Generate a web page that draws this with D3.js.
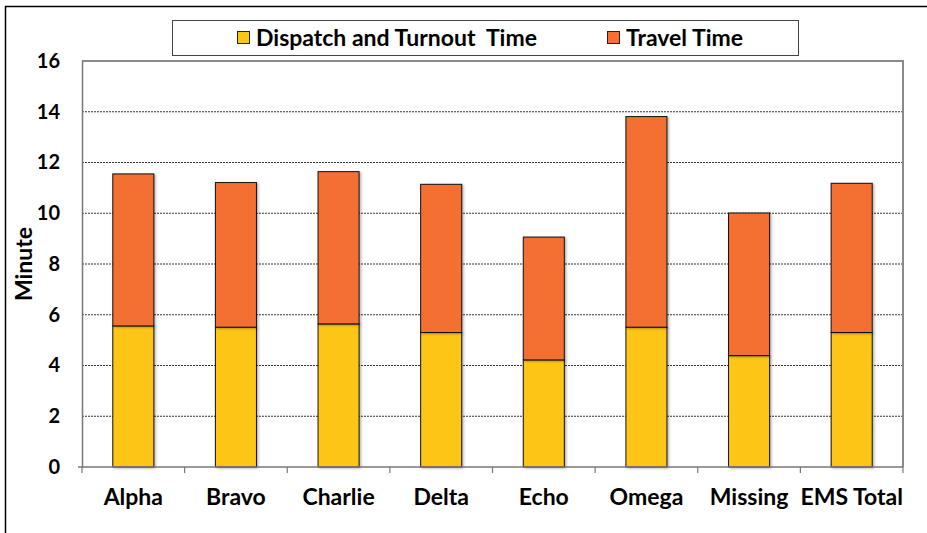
<!DOCTYPE html>
<html>
<head>
<meta charset="utf-8">
<script src="https://cdn.jsdelivr.net/npm/d3@7"></script>
<style>
  html, body { margin: 0; padding: 0; background: #fff; }
  svg { display: block; font-family: Lato, "Open Sans", sans-serif; }
  text { white-space: pre; }
</style>
</head>
<body>
<svg id="chart" width="927" height="533"></svg>
<script>
// Response-time breakdown by unit (minutes)
const categories = ["Alpha", "Bravo", "Charlie", "Delta", "Echo", "Omega", "Missing", "EMS Total"];
const dispatchTurnout = [5.56, 5.51, 5.64, 5.30, 4.22, 5.51, 4.39, 5.30];
const travelTime = [5.99, 5.70, 6.00, 5.84, 4.84, 8.30, 5.62, 5.88];
const seriesNames = ["Dispatch and Turnout  Time", "Travel Time"];
const seriesColors = ["#FDC515", "#F46F30"];
const yTicks = [0, 2, 4, 6, 8, 10, 12, 14, 16];

const svg = d3.select("#chart");
const plot = { left: 82, right: 903, top: 61, bottom: 467 };

const x = d3.scaleBand()
  .domain(categories)
  .range([plot.left, plot.right])
  .paddingInner(0.6)
  .paddingOuter(0.3);

const y = d3.scaleLinear().domain([0, 16]).range([plot.bottom, plot.top]);

// outer frame (top and left edges)
svg.append("path")
  .attr("d", "M5.5,533 V6.5 H927")
  .attr("fill", "none").attr("stroke", "#000").attr("stroke-width", 1.5);

// horizontal dashed gridlines
svg.append("g").selectAll("line")
  .data(yTicks.filter(t => t > 0 && t < 16))
  .join("line")
  .attr("x1", plot.left).attr("x2", plot.right)
  .attr("y1", d => y(d)).attr("y2", d => y(d))
  .attr("stroke", "#333").attr("stroke-width", 1)
  .attr("stroke-dasharray", "2,1");

// stacked bars
const rows = categories.map((c, i) => ({ cat: c, d: dispatchTurnout[i], t: travelTime[i] }));
const stack = d3.stack().keys(["d", "t"])(rows);

const shadow = svg.append("defs").append("filter").attr("id", "sh")
  .attr("x", "-20%").attr("y", "-5%").attr("width", "140%").attr("height", "110%");
shadow.append("feDropShadow").attr("dx", 1.5).attr("dy", 1).attr("stdDeviation", 0.8)
  .attr("flood-color", "#000").attr("flood-opacity", 0.3);

const layers = svg.append("g").selectAll("g")
  .data(stack)
  .join("g")
  .attr("fill", (d, i) => seriesColors[i]);

layers.selectAll("rect")
  .data(d => d)
  .join("rect")
  .attr("x", d => x(d.data.cat))
  .attr("width", x.bandwidth())
  .attr("y", d => y(d[1]))
  .attr("height", d => y(d[0]) - y(d[1]))
  .attr("stroke", "#111").attr("stroke-width", 1)
  .attr("filter", "url(#sh)");

// plot frame: top and right edges, left axis and baseline
svg.append("path")
  .attr("d", `M${plot.left},${plot.top} H${plot.right} V${plot.bottom}`)
  .attr("fill", "none").attr("stroke", "#8a8a8a").attr("stroke-width", 2);

const yAxis = d3.axisLeft(y).tickValues(yTicks).tickSize(0).tickPadding(22);
const yg = svg.append("g").attr("transform", `translate(${plot.left},0)`).call(yAxis);
yg.select(".domain").attr("stroke", "#777").attr("stroke-width", 1.5);
yg.selectAll("text")
  .attr("font-size", 20).attr("font-weight", "bold").attr("fill", "#000")
  .attr("font-family", "Lato, sans-serif");

const xAxis = d3.axisBottom(x).tickSize(0).tickPadding(22);
const xg = svg.append("g").attr("transform", `translate(0,${plot.bottom})`).call(xAxis);
xg.select(".domain").remove();
xg.selectAll("text")
  .attr("font-size", 23).attr("font-weight", "bold").attr("fill", "#000")
  .attr("font-family", "Lato, sans-serif");

// baseline with category separator ticks
svg.append("line")
  .attr("x1", plot.left - 4).attr("x2", plot.right)
  .attr("y1", plot.bottom).attr("y2", plot.bottom)
  .attr("stroke", "#777").attr("stroke-width", 1.5);
const step = x.step();
const bounds = d3.range(categories.length + 1).map(i => x(categories[0]) - x.paddingOuter() * step + i * step);
svg.append("g").selectAll("line")
  .data(bounds)
  .join("line")
  .attr("x1", d => d).attr("x2", d => d)
  .attr("y1", plot.bottom).attr("y2", plot.bottom + 6)
  .attr("stroke", "#777").attr("stroke-width", 1.2);

// y axis title
svg.append("text")
  .attr("transform", `translate(32,${(plot.top + plot.bottom) / 2}) rotate(-90)`)
  .attr("text-anchor", "middle")
  .attr("font-size", 23).attr("font-weight", "bold")
  .text("Minute");

// legend
const legend = svg.append("g");
legend.append("rect")
  .attr("x", 172.5).attr("y", 20.5).attr("width", 626).attr("height", 35)
  .attr("fill", "#fff").attr("stroke", "#444").attr("stroke-width", 1);
const legendX = [237, 607];
const items = legend.selectAll("g.item")
  .data(seriesNames)
  .join("g").attr("class", "item")
  .attr("transform", (d, i) => `translate(${legendX[i]},0)`);
items.append("rect")
  .attr("x", 0.5).attr("y", 31.5).attr("width", 12).attr("height", 12)
  .attr("fill", (d, i) => seriesColors[i]).attr("stroke", "#222").attr("stroke-width", 1);
items.append("text")
  .attr("x", 19).attr("y", 45.5)
  .attr("font-size", 23).attr("font-weight", "bold")
  .text(d => d);
</script>
</body>
</html>
